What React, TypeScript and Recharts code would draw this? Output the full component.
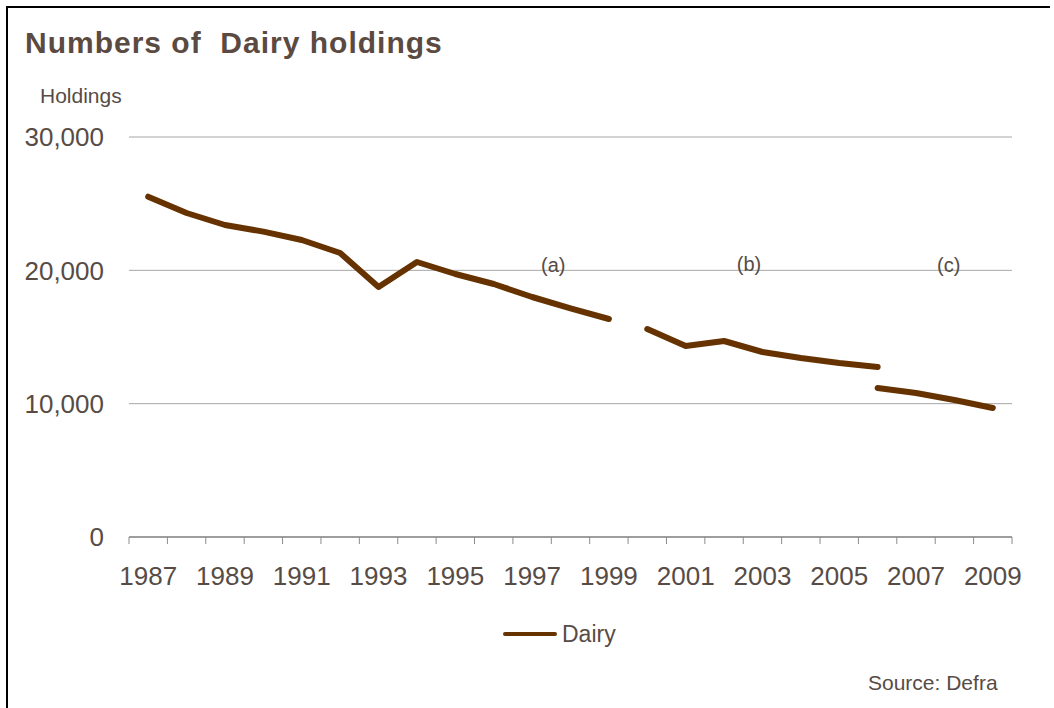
import React from 'react'
import { LineChart, Line, XAxis, YAxis, CartesianGrid, ReferenceDot } from 'recharts'

// Dairy holdings, three survey bases (a) 1987-1999, (b) 2000-2006, (c) 2006-2009
const YEARS_A = [1987, 1988, 1989, 1990, 1991, 1992, 1993, 1994, 1995, 1996, 1997, 1998, 1999]
const DAIRY_A = [25520, 24300, 23400, 22900, 22275, 21300, 18750, 20625, 19725, 18975, 18000, 17150, 16350]

const YEARS_B = [2000, 2001, 2002, 2003, 2004, 2005, 2006]
const DAIRY_B = [15600, 14325, 14700, 13875, 13425, 13050, 12750]

const YEARS_C = [2006, 2007, 2008, 2009]
const DAIRY_C = [11175, 10800, 10275, 9675]

const YEAR_LABELS = [1987, 1989, 1991, 1993, 1995, 1997, 1999, 2001, 2003, 2005, 2007, 2009]
const Y_TICKS = [0, 10000, 20000, 30000]

const NOTES = [
  { label: '(a)', year: 1997.55, value: 20400 },
  { label: '(b)', year: 2002.65, value: 20500 },
  { label: '(c)', year: 2007.85, value: 20400 }
]

// tick marks sit between the years (category boundaries)
const TICK_MARKS = Array.from({ length: YEAR_LABELS.length * 2 }, (_, i) => 1986.5 + i)

const toRows = (years: number[], values: number[]) =>
  years.map((year, i) => ({ year, value: values[i] }))

const LINE_COLOR = '#663300'
const TEXT_COLOR = '#574c45'
const FONT = '"Liberation Sans", Arial, sans-serif'

const EmptyTick = () => <g />

export default function App() {
  const seriesA = toRows(YEARS_A, DAIRY_A)
  const seriesB = toRows(YEARS_B, DAIRY_B)
  const seriesC = toRows(YEARS_C, DAIRY_C)

  return (
    <div style={{ position: 'relative', width: 1054, height: 708, overflow: 'hidden', background: '#fff', fontFamily: FONT }}>
      <style>{`body{margin:0;overflow:hidden}`}</style>
      <div
        style={{
          position: 'absolute',
          left: 6,
          top: 6,
          width: 1042,
          height: 720,
          borderTop: '2.5px solid #000',
          borderLeft: '2.5px solid #000'
        }}
      />
      <div
        style={{
          position: 'absolute',
          left: 25,
          top: 28,
          fontSize: 30,
          letterSpacing: 1,
          lineHeight: 1,
          fontWeight: 700,
          color: '#5b4a42',
          whiteSpace: 'pre'
        }}
      >
        {'Numbers of  Dairy holdings'}
      </div>
      <div style={{ position: 'absolute', left: 40, top: 85, fontSize: 21, lineHeight: 1, color: TEXT_COLOR }}>
        Holdings
      </div>

      <div style={{ position: 'absolute', left: 0, top: 0 }}>
        <LineChart width={1054} height={708} margin={{ top: 137, right: 42, bottom: 140, left: 0 }}>
          <CartesianGrid vertical={false} stroke="#a6a6a6" strokeWidth={1} />
          <XAxis
            xAxisId="bounds"
            type="number"
            dataKey="year"
            domain={[1986.5, 2009.5]}
            allowDataOverflow
            ticks={TICK_MARKS}
            interval={0}
            height={1}
            tick={EmptyTick}
            tickSize={7}
            tickLine={{ stroke: '#8c8c8c', strokeWidth: 1 }}
            axisLine={{ stroke: '#8c8c8c', strokeWidth: 1.5 }}
          />
          <XAxis
            xAxisId="years"
            type="number"
            dataKey="year"
            domain={[1986.5, 2009.5]}
            allowDataOverflow
            ticks={YEAR_LABELS}
            interval={0}
            height={30}
            axisLine={false}
            tickLine={false}
            tickSize={0}
            tickMargin={29}
            tick={{ fill: TEXT_COLOR, fontSize: 26, fontFamily: FONT }}
          />
          <YAxis
            width={129}
            domain={[0, 30000]}
            ticks={Y_TICKS}
            interval={0}
            axisLine={false}
            tickLine={false}
            tickSize={0}
            tickMargin={25}
            tickFormatter={(v: number) => v.toLocaleString('en-US')}
            tick={{ fill: TEXT_COLOR, fontSize: 26, fontFamily: FONT }}
          />
          {[seriesA, seriesB, seriesC].map((rows, i) => (
            <Line
              key={i}
              xAxisId="years"
              data={rows}
              dataKey="value"
              name="Dairy"
              type="linear"
              stroke={LINE_COLOR}
              strokeWidth={6}
              strokeLinecap="round"
              strokeLinejoin="round"
              dot={false}
              activeDot={false}
              isAnimationActive={false}
            />
          ))}
          {NOTES.map((n) => (
            <ReferenceDot
              key={n.label}
              xAxisId="years"
              x={n.year}
              y={n.value}
              r={0}
              fill="none"
              stroke="none"
              ifOverflow="visible"
              label={{ value: n.label, position: 'center', fill: TEXT_COLOR, fontSize: 20, fontFamily: FONT }}
            />
          ))}
        </LineChart>
      </div>

      <div style={{ position: 'absolute', left: 503, top: 632, width: 54, height: 4, background: LINE_COLOR, borderRadius: 2 }} />
      <div style={{ position: 'absolute', left: 562, top: 623, fontSize: 23, lineHeight: 1, color: TEXT_COLOR }}>
        Dairy
      </div>
      <div style={{ position: 'absolute', left: 868, top: 672, fontSize: 21, lineHeight: 1, color: TEXT_COLOR }}>
        Source: Defra
      </div>
    </div>
  )
}
